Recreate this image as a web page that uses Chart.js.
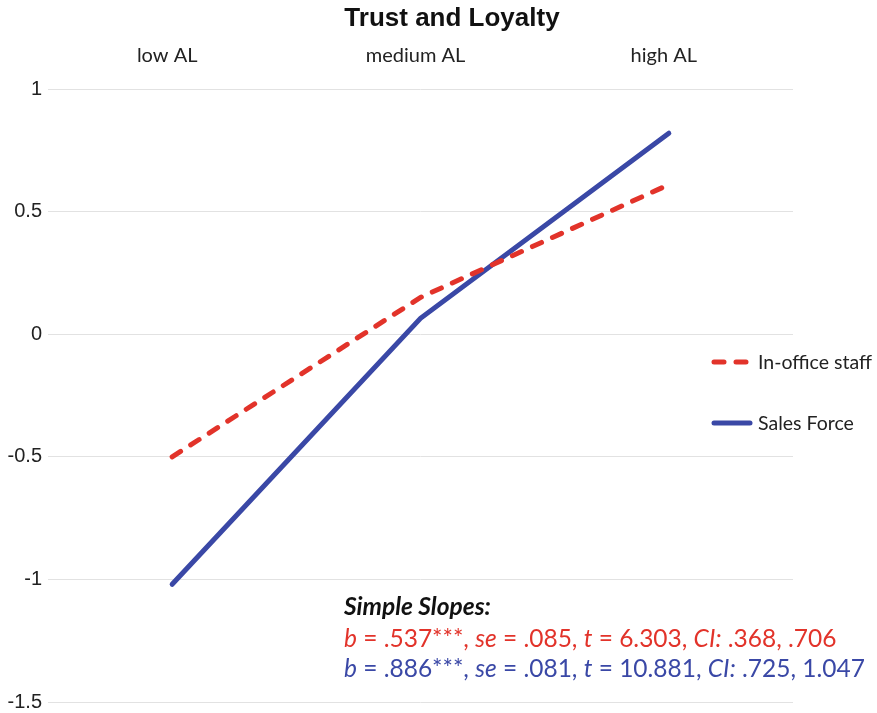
<!DOCTYPE html>
<html>
<head>
<meta charset="utf-8">
<title>Trust and Loyalty</title>
<script src="https://cdn.jsdelivr.net/npm/chart.js@4.4.1/dist/chart.umd.min.js"></script>
<style>
    html, body { margin: 0; padding: 0; background: #fff; }
    #wrap { width: 877px; height: 713px; position: relative; }
</style>
</head>
<body>
<div id="wrap"><canvas id="slopeChart"></canvas></div>
<script>
// ============================================
// TRUST AND LOYALTY - simple slopes plot
// ============================================

const categories = ['low AL', 'medium AL', 'high AL'];
const inOfficeStaff = [-0.50, 0.15, 0.61];
const salesForce = [-1.02, 0.065, 0.82];
const yMin = -1.5;
const yMax = 1;
const yStep = 0.5;

const seriesNames = ['In-office staff', 'Sales Force'];
const seriesColors = ['#e2332a', '#3a48a6'];

// annotation lines: [text, italic] pieces
const slopesHeading = 'Simple Slopes:';
const slopesRed = [['b', true], [' = .537***, ', false], ['se', true], [' = .085, ', false], ['t', true], [' = 6.303, ', false], ['CI:', true], [' .368, .706', false]];
const slopesBlue = [['b', true], [' = .886***, ', false], ['se', true], [' = .081, ', false], ['t', true], [' = 10.881, ', false], ['CI:', true], [' .725, 1.047', false]];

const bodyFont = 'Lato, "Open Sans", sans-serif';

const overlayPlugin = {
    id: 'overlay',
    afterDraw(chart) {
        const ctx = chart.ctx;
        ctx.save();

        // title
        ctx.fillStyle = '#111';
        ctx.font = 'bold 26px "Liberation Sans", Arial, sans-serif';
        ctx.textAlign = 'center';
        ctx.textBaseline = 'middle';
        ctx.fillText('Trust and Loyalty', 452, 19);

        // legend
        ctx.textAlign = 'left';
        ctx.font = '19.5px ' + bodyFont;
        chart.data.datasets.forEach((ds, i) => {
            const y = 362 + i * 61;
            ctx.beginPath();
            ctx.strokeStyle = ds.borderColor;
            ctx.lineWidth = ds.borderWidth;
            ctx.lineCap = 'round';
            ctx.setLineDash(ds.borderDash || []);
            ctx.moveTo(714, y);
            ctx.lineTo(750, y);
            ctx.stroke();
            ctx.setLineDash([]);
            ctx.fillStyle = '#222';
            ctx.fillText(ds.label, 758, y + 1);
        });

        // simple slopes note
        ctx.textBaseline = 'alphabetic';
        ctx.fillStyle = '#111';
        ctx.font = 'italic bold 24.5px ' + bodyFont;
        ctx.fillText(slopesHeading, 344, 615);
        [slopesRed, slopesBlue].forEach((parts, i) => {
            let x = 344;
            const y = 647 + i * 30;
            ctx.fillStyle = seriesColors[i];
            parts.forEach(([txt, italic]) => {
                ctx.font = (italic ? 'italic ' : '') + '24.5px ' + bodyFont;
                ctx.fillText(txt, x, y);
                x += ctx.measureText(txt).width;
            });
        });

        ctx.restore();
    }
};

const chart = new Chart(document.getElementById('slopeChart'), {
    type: 'line',
    data: {
        labels: categories,
        datasets: [
            {
                label: seriesNames[0],
                data: inOfficeStaff,
                borderColor: seriesColors[0],
                borderWidth: 5,
                borderDash: [10, 12],
                borderCapStyle: 'round',
                pointRadius: 0,
                tension: 0,
                fill: false
            },
            {
                label: seriesNames[1],
                data: salesForce,
                borderColor: seriesColors[1],
                borderWidth: 5,
                borderCapStyle: 'round',
                pointRadius: 0,
                tension: 0,
                fill: false
            }
        ]
    },
    options: {
        responsive: true,
        maintainAspectRatio: false,
        animation: false,
        layout: { padding: { top: 0, left: 0, right: 84, bottom: 11 } },
        plugins: {
            legend: { display: false },
            title: { display: false },
            tooltip: { enabled: false }
        },
        scales: {
            x: {
                position: 'top',
                offset: true,
                grid: { display: false, drawTicks: false },
                border: { display: false },
                ticks: { color: '#222', padding: 21, labelOffset: -5, font: { family: bodyFont, size: 20 } },
                afterFit: (scale) => { scale.height = 89; }
            },
            y: {
                min: yMin,
                max: yMax,
                grid: { color: '#e2e2e2', lineWidth: 1, drawTicks: false },
                border: { display: false },
                ticks: {
                    stepSize: yStep,
                    padding: 6,
                    color: '#222',
                    font: { family: '"Liberation Sans", Arial, sans-serif', size: 20 },
                    callback: (v) => String(v)
                },
                afterFit: (scale) => {
                    scale.width = 48;
                    scale.paddingTop = 0;
                    scale.paddingBottom = 0;
                }
            }
        }
    },
    plugins: [overlayPlugin]
});
</script>
</body>
</html>
